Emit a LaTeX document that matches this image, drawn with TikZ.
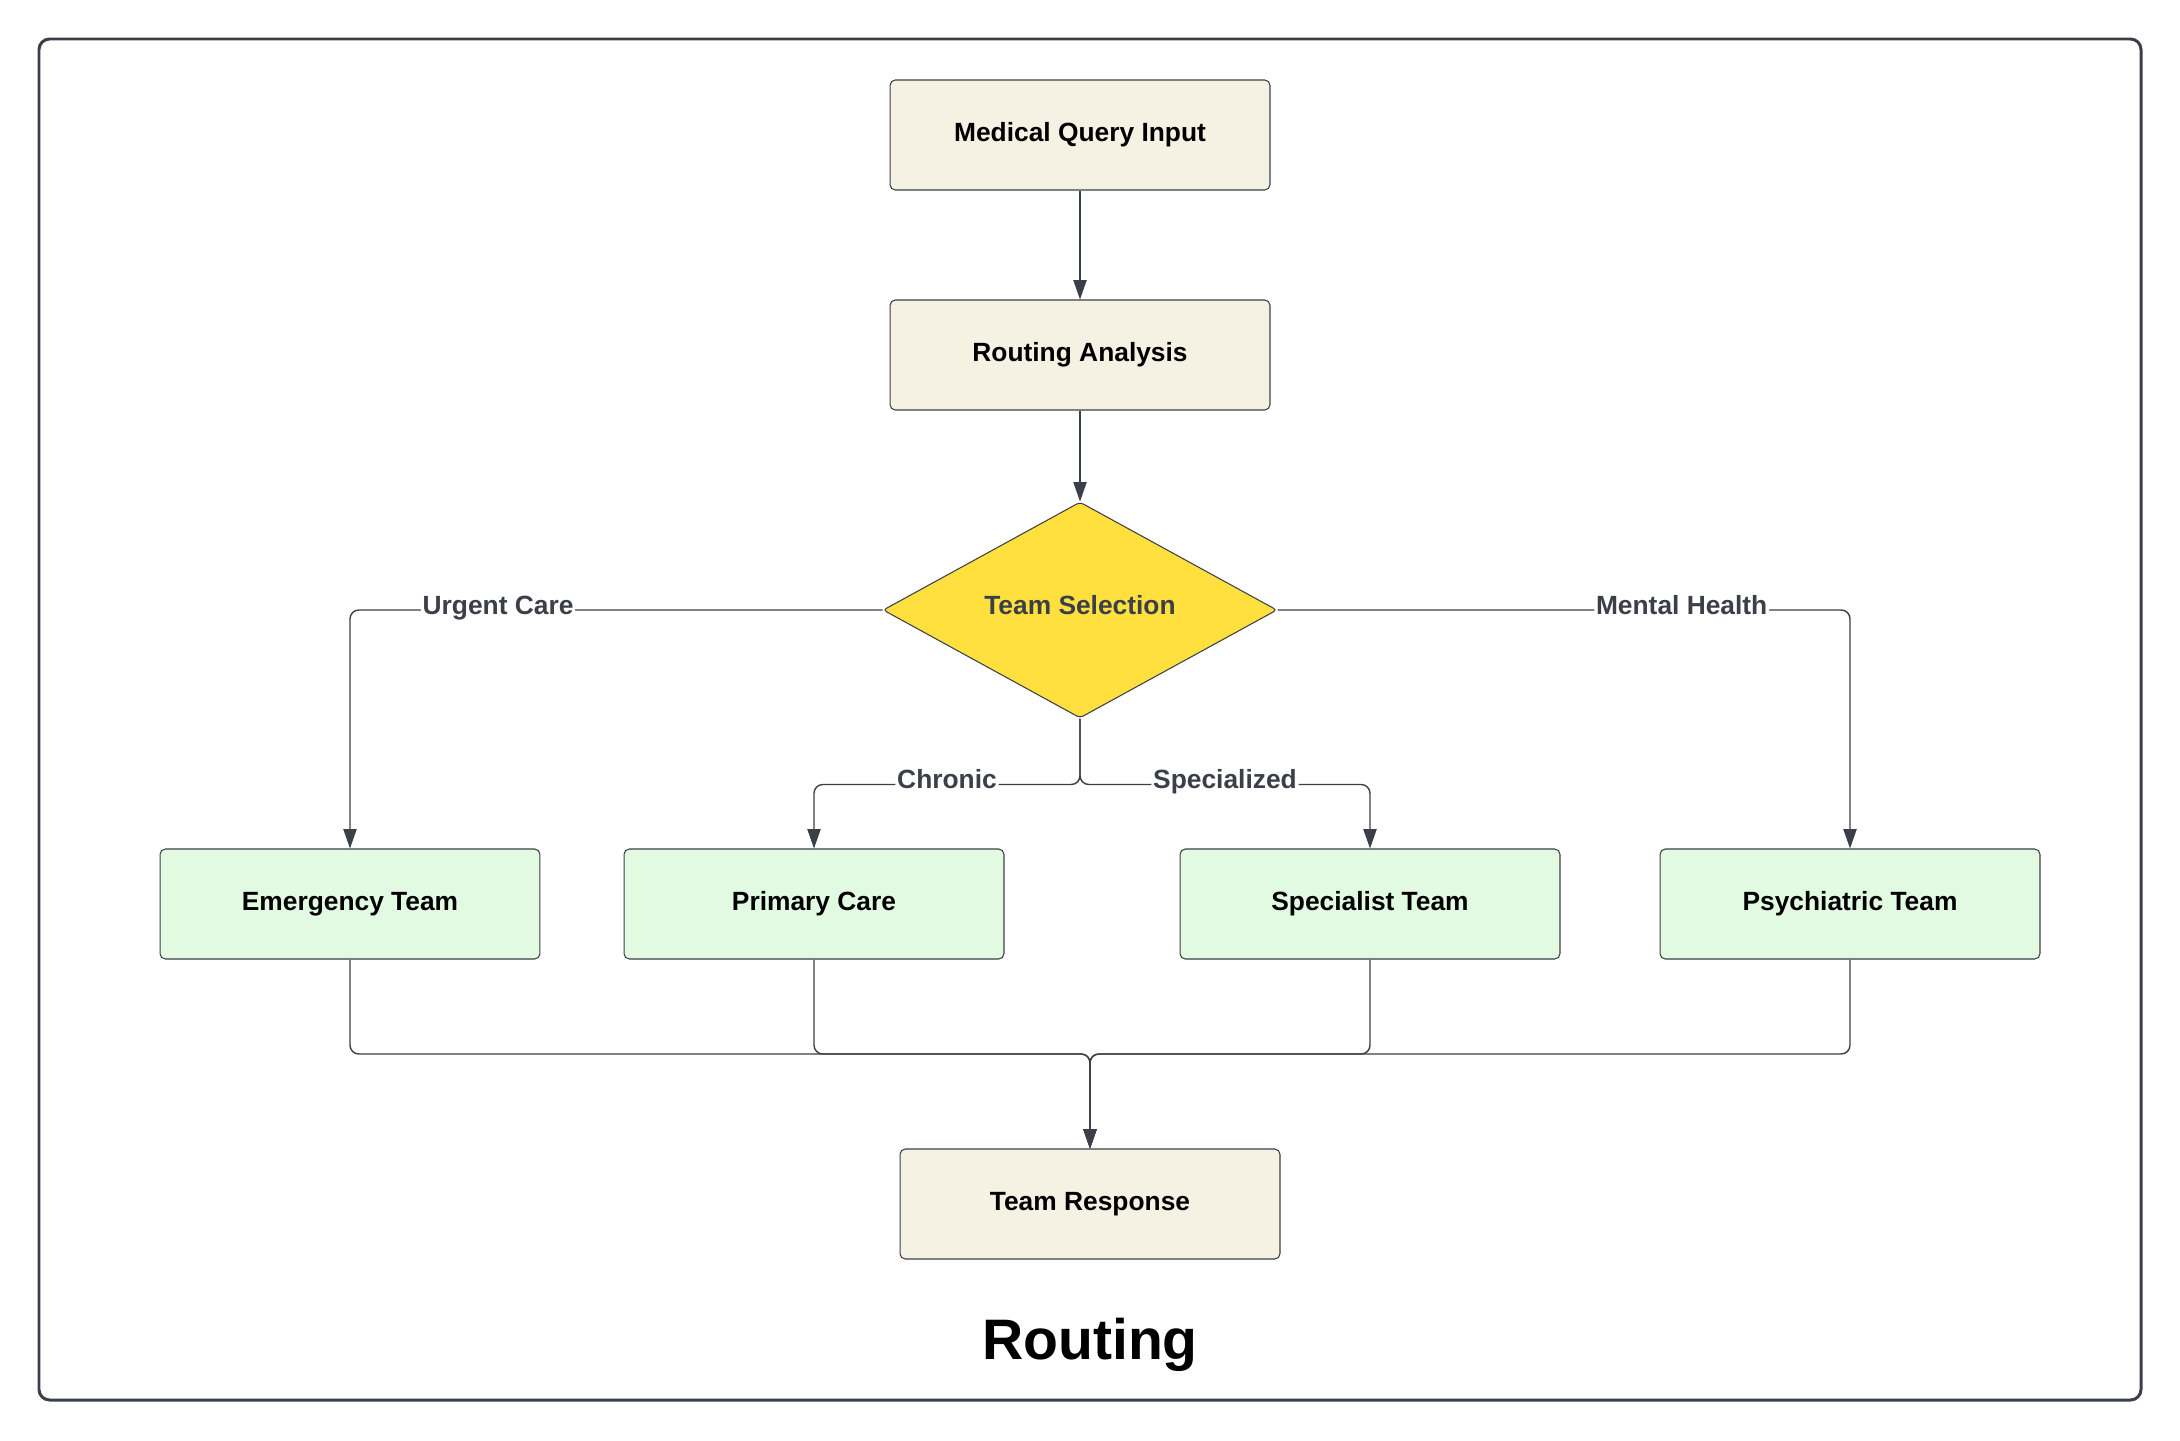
\documentclass[tikz,border=0pt]{standalone}
\usepackage{fontspec}
\setmainfont{Liberation Sans}
\usetikzlibrary{shapes.geometric,arrows.meta}
\definecolor{edgegray}{HTML}{3B3F48}
\definecolor{inputfill}{HTML}{F5F2E3}
\definecolor{teamfill}{HTML}{E2F9E2}
\definecolor{choicefill}{HTML}{FFE03F}
\begin{document}
\begin{tikzpicture}[x=0.02cm,y=-0.02cm]
\tikzstyle{every node}+=[font=\fontsize{15}{18}\selectfont\bfseries]
\tikzstyle{stage}=[draw=edgegray,line width=0.6pt,rounded corners=3pt,minimum width=7.6cm,minimum height=2.2cm,inner sep=0pt]
\tikzstyle{choice}=[diamond,aspect=1.8,draw=edgegray,line width=0.6pt,fill=choicefill,minimum width=7.88cm,minimum height=4.32cm,inner sep=0pt,text=edgegray,rounded corners=2pt,text height=0.75em,text depth=0.25em]
\tikzstyle{link}=[draw=edgegray,line width=0.8pt,rounded corners=5pt,-{Triangle[length=11pt,width=7.5pt]}]
\tikzstyle{lbl}=[fill=white,text=edgegray,inner sep=1pt,text height=0.75em,text depth=0.25em]
\useasboundingbox (0,0) rectangle (2180,1440);
\draw[edgegray,line width=1.7pt,rounded corners=6pt] (39,39) rectangle (2141,1400);
\node[stage,fill=inputfill] (query) at (1080,135) {Medical Query Input};
\node[stage,fill=inputfill] (analysis) at (1080,355) {Routing Analysis};
\node[choice] (select) at (1080,610) {Team Selection};
\node[stage,fill=teamfill] (emergency) at (350,904) {Emergency Team};
\node[stage,fill=teamfill] (primary) at (814,904) {Primary Care};
\node[stage,fill=teamfill] (specialist) at (1370,904) {Specialist Team};
\node[stage,fill=teamfill] (psychiatric) at (1850,904) {Psychiatric Team};
\node[stage,fill=inputfill] (response) at (1090,1204) {Team Response};
\node[font=\fontsize{32.5}{38}\selectfont\bfseries] (title) at (1090,1345) {Routing};
\coordinate (merge) at (1090,1054);
\draw[link] (query) -- (analysis);
\draw[link] (analysis) -- (select);
\draw[link] (select.west) -| node[lbl,pos=0.361] {Urgent Care} (emergency.north);
\draw[link] (select.east) -| node[lbl,pos=0.353] {Mental Health} (psychiatric.north);
\draw[link] (select.south) -- ++(0,66) -| node[lbl,pos=0.25] {Chronic} (primary.north);
\draw[link] (select.south) -- ++(0,66) -| node[lbl,pos=0.25] {Specialized} (specialist.north);
\foreach \team in {emergency,primary,specialist,psychiatric}
  \draw[link] (\team.south) |- (merge) -- (response.north);
\end{tikzpicture}
\end{document}
